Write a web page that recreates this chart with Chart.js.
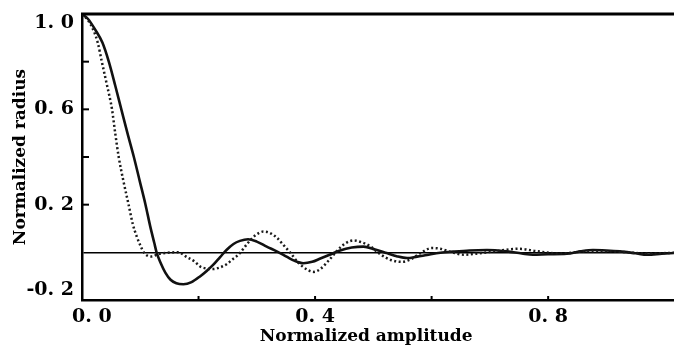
<!DOCTYPE html>
<html>
<head>
<meta charset="utf-8">
<script src="https://cdn.jsdelivr.net/npm/chart.js@4/dist/chart.umd.min.js"></script>
<style>
  html, body { margin: 0; padding: 0; background: #fff; }
  #c { display: block; }
</style>
</head>
<body>
<canvas id="c" width="674" height="351"></canvas>
<script>
// ---- Data ----
const solidX = [0.000,0.010,0.023,0.035,0.046,0.057,0.0675,0.078,0.089,0.099,0.109,0.117,0.124,0.128,0.135,0.143,0.152,0.162,0.174,0.188,0.203,0.214,0.225,0.237,0.248,0.260,0.271,0.285,0.300,0.317,0.335,0.351,0.365,0.380,0.395,0.409,0.425,0.443,0.463,0.483,0.503,0.523,0.540,0.558,0.575,0.592,0.615,0.637,0.665,0.695,0.729,0.755,0.774,0.800,0.832,0.855,0.877,0.900,0.923,0.950,0.970,0.995,1.016];
const solidY = [1.000,0.980,0.933,0.880,0.800,0.700,0.600,0.500,0.400,0.300,0.200,0.110,0.040,0.000,-0.045,-0.085,-0.115,-0.130,-0.134,-0.125,-0.100,-0.078,-0.053,-0.020,0.010,0.035,0.048,0.055,0.045,0.024,0.003,-0.018,-0.036,-0.046,-0.040,-0.026,-0.010,0.008,0.020,0.024,0.012,-0.003,-0.016,-0.024,-0.018,-0.011,-0.002,0.003,0.008,0.010,0.004,-0.005,-0.010,-0.008,-0.006,0.004,0.010,0.008,0.004,-0.004,-0.010,-0.006,-0.003];

const dottedX = [0.000,0.010,0.020,0.027,0.034,0.043,0.0515,0.057,0.063,0.071,0.080,0.087,0.094,0.100,0.106,0.113,0.120,0.130,0.145,0.165,0.180,0.194,0.203,0.215,0.225,0.237,0.248,0.258,0.266,0.272,0.285,0.298,0.311,0.322,0.335,0.346,0.357,0.370,0.386,0.398,0.410,0.425,0.443,0.455,0.466,0.480,0.495,0.510,0.530,0.550,0.565,0.580,0.600,0.615,0.635,0.655,0.680,0.710,0.750,0.780,0.820,0.870,0.920,0.970,1.016];
const dottedY = [1.000,0.975,0.930,0.880,0.800,0.700,0.600,0.500,0.400,0.300,0.200,0.120,0.066,0.030,0.000,-0.015,-0.018,-0.008,-0.002,0.000,-0.020,-0.040,-0.060,-0.068,-0.070,-0.063,-0.050,-0.030,-0.015,0.000,0.040,0.072,0.087,0.082,0.060,0.030,0.000,-0.040,-0.072,-0.082,-0.068,-0.030,0.020,0.042,0.050,0.042,0.025,-0.005,-0.032,-0.040,-0.028,-0.005,0.018,0.015,0.000,-0.010,-0.005,0.005,0.015,0.005,-0.005,0.005,0.003,-0.005,-0.002];

const xLabelValues = [0.0, 0.4, 0.8];
const xLabelTexts  = ['\u00a0\u00a0\u00a00. 0', '0. 4', '0. 8'];
const yLabelValues = [1.0, 0.6, 0.2, -0.2];
const yLabelTexts  = ['1. 0', '0. 6', '0. 2', '-0. 2'];
const xMinorTicks  = [0.2, 0.4, 0.6, 0.8];
const yMinorTicks  = [0.8, 0.6, 0.4, 0.2];

const xTitle = 'Normalized amplitude';
const yTitle = 'Normalized radius';

const toPts = (xs, ys) => xs.map((x, i) => ({x: x, y: ys[i]}));

function findLabel(values, texts, v) {
  for (let i = 0; i < values.length; i++) {
    if (Math.abs(values[i] - v) < 1e-6) return texts[i];
  }
  return null;
}

const frame = {
  id: 'frame',
  afterDatasetsDraw(chart) {
    const {ctx, chartArea: a, scales: {x, y}} = chart;
    ctx.save();
    ctx.strokeStyle = '#000';
    // top border
    ctx.lineWidth = 3;
    ctx.beginPath();
    ctx.moveTo(a.left - 1, a.top);
    ctx.lineTo(a.right, a.top);
    ctx.stroke();
    // inward ticks
    ctx.lineWidth = 2;
    yMinorTicks.forEach(v => {
      const py = y.getPixelForValue(v);
      ctx.beginPath();
      ctx.moveTo(a.left, py);
      ctx.lineTo(a.left + 7, py);
      ctx.stroke();
    });
    xMinorTicks.forEach(v => {
      const px = x.getPixelForValue(v);
      ctx.beginPath();
      ctx.moveTo(px, a.bottom);
      ctx.lineTo(px, a.bottom - 4);
      ctx.stroke();
    });
    ctx.restore();
  }
};

new Chart(document.getElementById('c'), {
  type: 'scatter',
  data: {
    datasets: [
      {
        data: toPts(dottedX, dottedY),
        showLine: true,
        borderColor: '#1a1a1a',
        borderWidth: 2.5,
        borderDash: [2, 2.5],
        pointRadius: 0,
        cubicInterpolationMode: 'monotone',
        fill: false
      },
      {
        data: toPts(solidX, solidY),
        showLine: true,
        borderColor: '#111',
        borderWidth: 2.6,
        pointRadius: 0,
        cubicInterpolationMode: 'monotone',
        fill: false
      }
    ]
  },
  options: {
    responsive: false,
    animation: false,
    events: [],
    layout: { padding: { top: 14, right: 0, left: 0, bottom: 0 } },
    plugins: { legend: { display: false }, tooltip: { enabled: false } },
    scales: {
      x: {
        type: 'linear',
        min: 0,
        max: 1.016,
        afterFit(s) { s.height = 51; s.paddingLeft = 0; s.paddingRight = 0; },
        grid: { display: true, drawOnChartArea: false, drawTicks: false },
        border: { display: true, color: '#000', width: 2.5 },
        ticks: {
          stepSize: 0.2,
          autoSkip: false,
          maxRotation: 0,
          padding: 6,
          color: '#000',
          font: { family: 'DejaVu Serif', weight: 'bold', size: 19 },
          callback(v) { const t = findLabel(xLabelValues, xLabelTexts, v); return t === null ? '' : t; }
        },
        title: {
          display: true,
          text: xTitle + '\u00a0\u00a0\u00a0\u00a0',
          color: '#000',
          font: { family: 'DejaVu Serif', weight: 'bold', size: 17 },
          padding: { top: 0, bottom: 4 }
        }
      },
      y: {
        type: 'linear',
        min: -0.2,
        max: 1.0,
        afterFit(s) { s.width = 82; s.paddingTop = 0; s.paddingBottom = 0; },
        grid: {
          drawOnChartArea: true,
          drawTicks: false,
          lineWidth: 1.5,
          color(ctx) { return (ctx.tick && Math.abs(ctx.tick.value) < 1e-9) ? '#000' : 'rgba(0,0,0,0)'; }
        },
        border: { display: true, color: '#000', width: 2.5 },
        ticks: {
          stepSize: 0.2,
          autoSkip: false,
          padding: 8,
          color: '#000',
          font: { family: 'DejaVu Serif', weight: 'bold', size: 19, lineHeight: 1.0 },
          callback(v) {
            const t = findLabel(yLabelValues, yLabelTexts, v);
            if (t === null) return '';
            if (Math.abs(v - 1.0) < 1e-6) return ['', t];
            if (Math.abs(v + 0.2) < 1e-6) return [t, ''];
            return t;
          }
        },
        title: {
          display: true,
          text: yTitle,
          color: '#000',
          font: { family: 'DejaVu Serif', weight: 'bold', size: 17 },
          padding: { top: 10, bottom: 0 }
        }
      }
    }
  },
  plugins: [frame]
});
</script>
</body>
</html>
